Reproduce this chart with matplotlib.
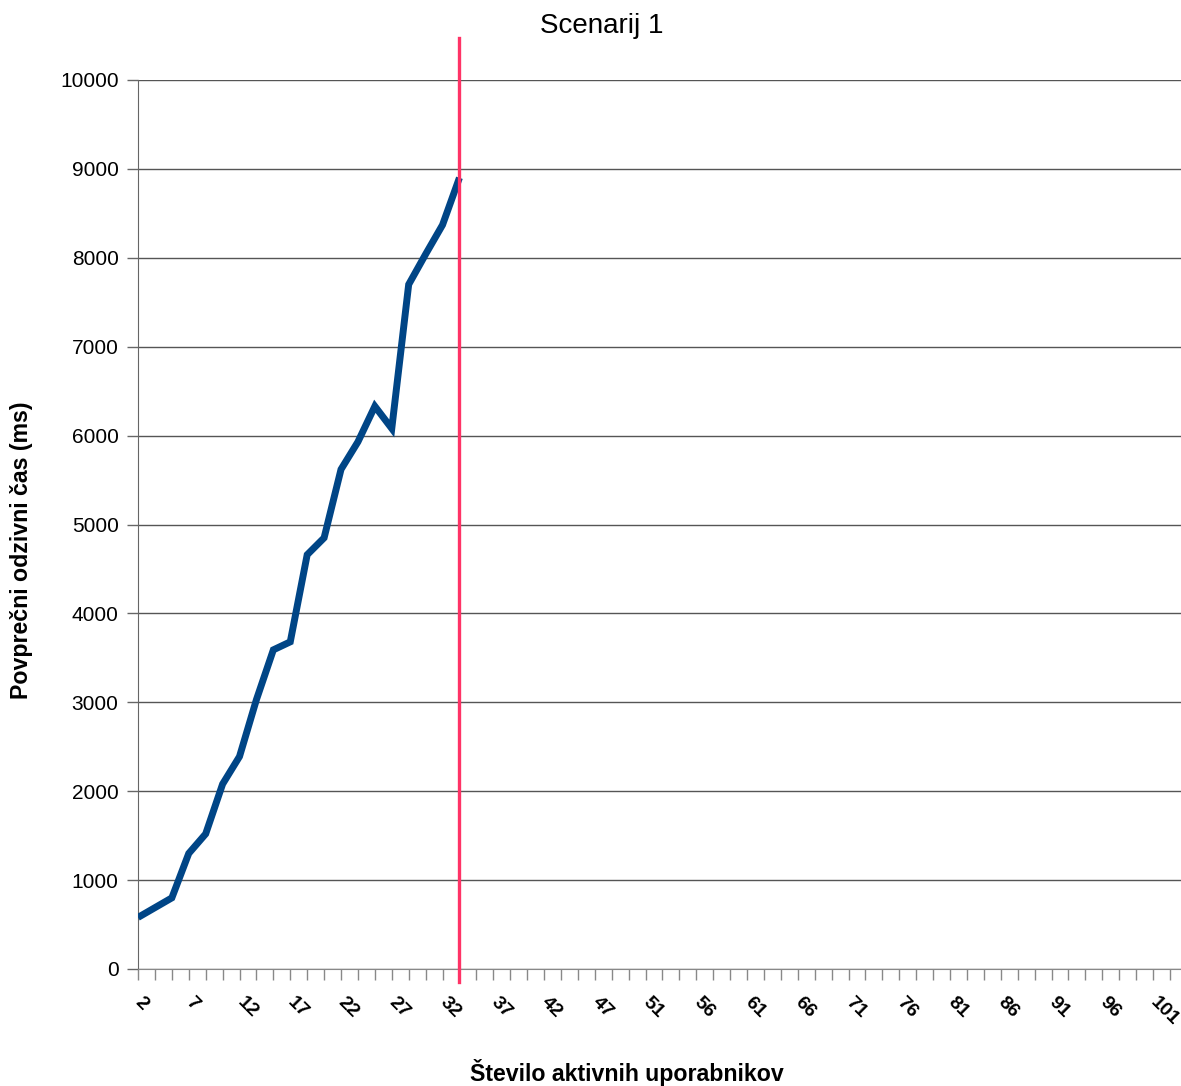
import matplotlib
matplotlib.use("Agg")
import matplotlib.pyplot as plt
import numpy as np

plt.rcParams["font.family"] = ["Liberation Sans", "DejaVu Sans"]

# Average response time (ms) per category of active users, one value per category slot
response_ms = [580, 690, 800, 1300, 1520, 2080, 2390, 3030, 3590, 3680,
               4660, 4850, 5620, 5930, 6330, 6080, 7700, 8040, 8370, 8900]

# Category labels printed under the axis (every third category is labelled)
x_labels = ["2", "7", "12", "17", "22", "27", "32", "37", "42", "47", "51",
            "56", "61", "66", "71", "76", "81", "86", "91", "96", "101"]
n_categories = 62
label_step = 3

# Category index where the saturation marker is drawn
limit_index = 19

title = "Scenarij 1"
x_title = "Število aktivnih uporabnikov"
y_title = "Povprečni odzivni čas (ms)"

W, H = 1181, 1086
fig = plt.figure(figsize=(W / 100, H / 100), dpi=100)
left, right, top, bottom = 138, 1181, 80, 969
ax = fig.add_axes([left / W, 1 - bottom / H, (right - left) / W, (bottom - top) / H])

x = np.arange(len(response_ms))
ax.plot(x, response_ms, color="#004586", lw=5, solid_joinstyle="miter",
        solid_capstyle="butt", zorder=3)

ax.set_xlim(0, 61.65)
ax.set_ylim(0, 10000)
ax.set_yticks(np.arange(0, 10001, 1000))
ax.grid(axis="y", color="#555555", lw=1.0)
ax.set_axisbelow(True)

ax.set_xticks(np.arange(n_categories))
ax.set_xticklabels([x_labels[i // label_step] if i % label_step == 0 and i // label_step < len(x_labels) else ""
                    for i in range(n_categories)],
                   rotation=-45, ha="left", va="center", rotation_mode="anchor",
                   fontsize=14, fontweight="bold")

ax.tick_params(axis="x", length=8, width=1, color="#888888", pad=14)
ax.tick_params(axis="y", length=8, width=1, color="#666666", labelsize=15, pad=6)

for s in ("top", "right"):
    ax.spines[s].set_visible(False)
ax.spines["left"].set_color("#666666")
ax.spines["bottom"].set_color("#888888")

# vertical marker extending beyond the plot area
ax.plot([limit_index, limit_index], [-150, 10470], color="#ff3366", lw=2.4,
        clip_on=False, zorder=4)

fig.text(602 / W, 1 - 26 / H, title, ha="center", va="center", fontsize=20)
fig.text(627 / W, 1 - 1073 / H, x_title, ha="center", va="center",
         fontsize=16.7, fontweight="bold")
fig.text(22 / W, 1 - 550 / H, y_title, ha="center", va="center", rotation=90,
         fontsize=16.7, fontweight="bold")

fig.savefig("out.png", dpi=100)
